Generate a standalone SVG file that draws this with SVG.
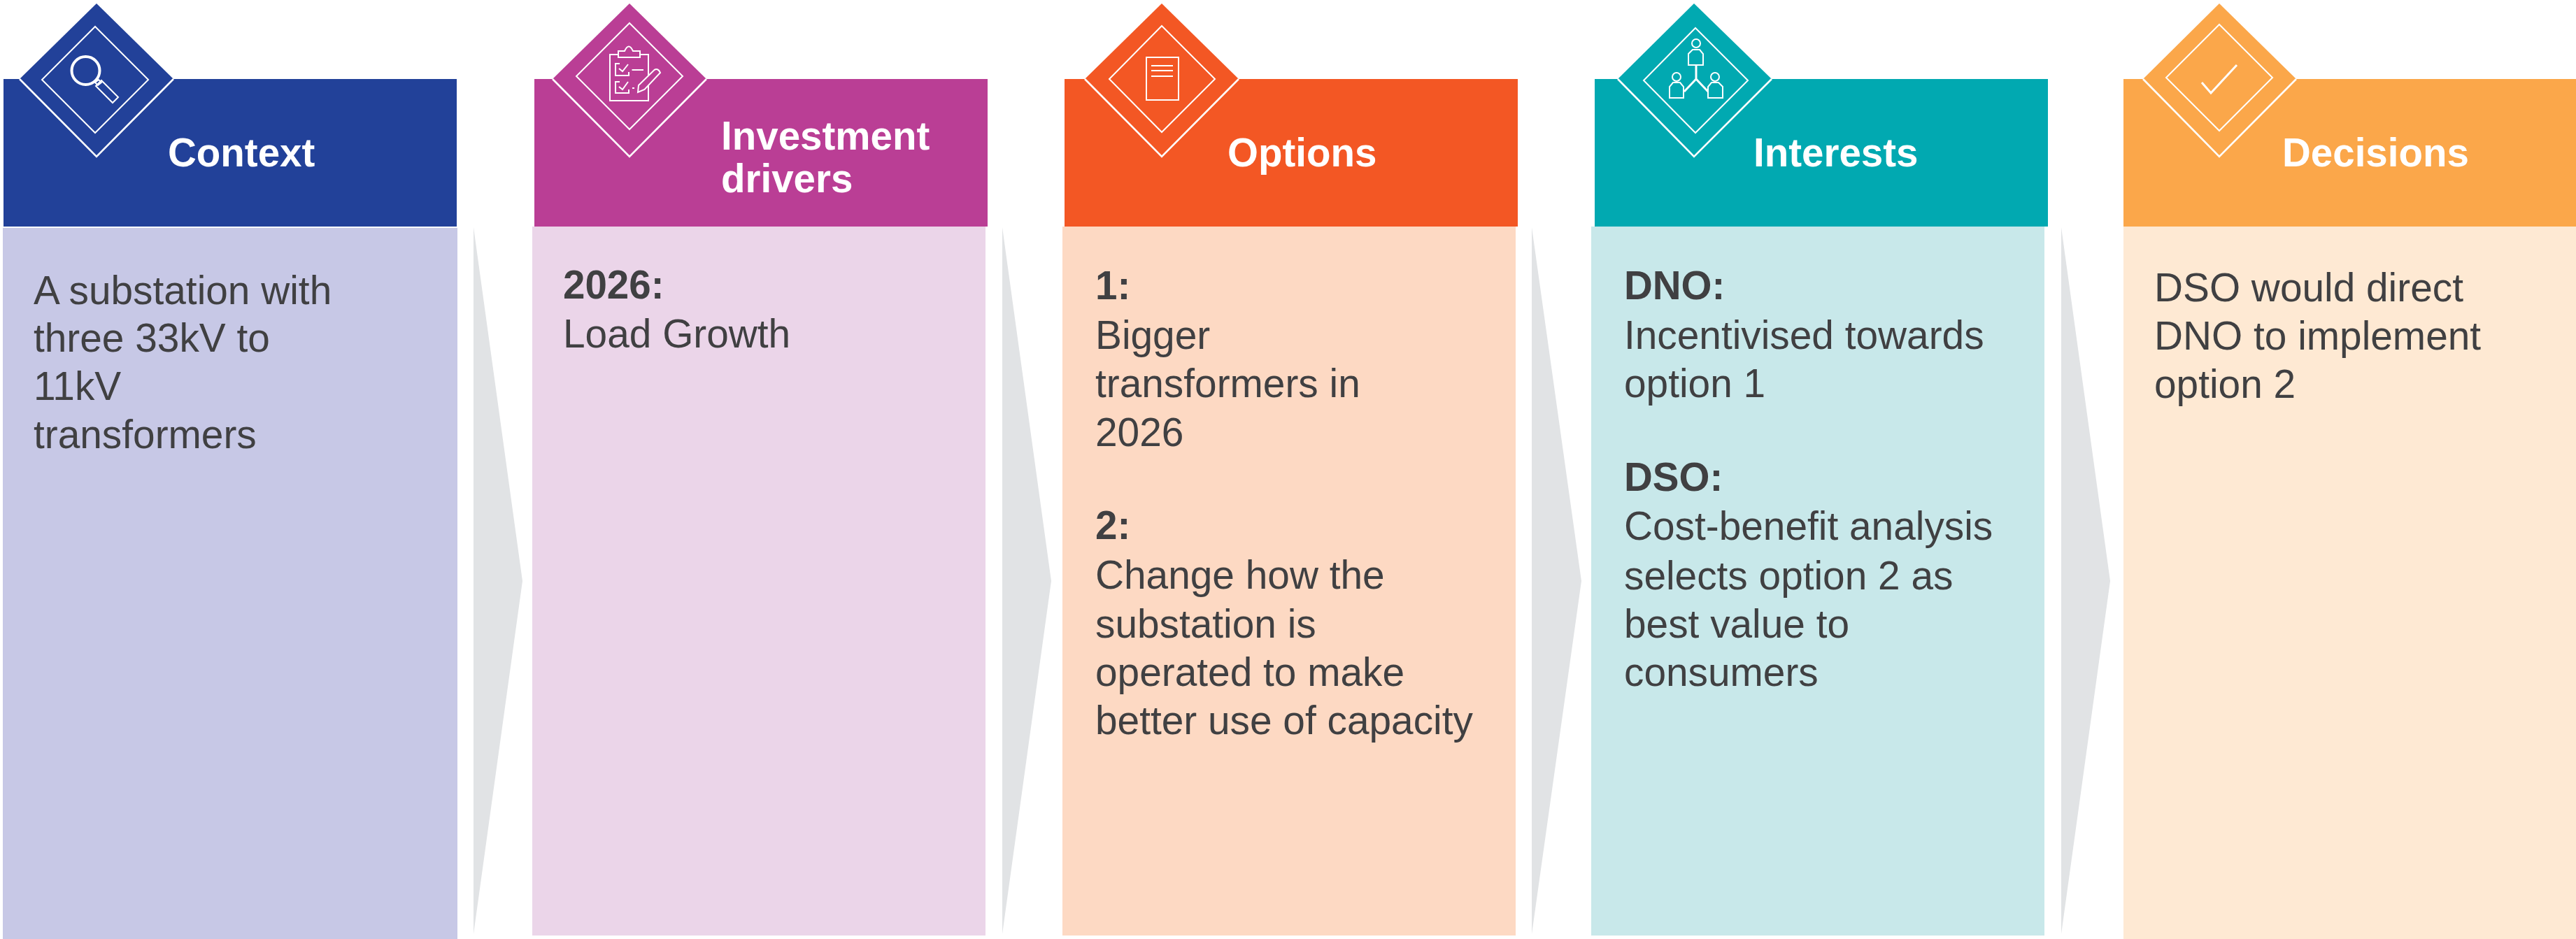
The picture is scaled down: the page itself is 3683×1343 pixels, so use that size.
<svg xmlns="http://www.w3.org/2000/svg" width="3683" height="1343" viewBox="0 0 3683 1343">
<style>
text{font-family:"Liberation Sans",Arial,sans-serif}
.h{fill:#fff;font-weight:700;font-size:56.5px}
.b{fill:#404042;font-size:56.8px}
.s{font-weight:700;font-size:56.5px}
.o{fill:none;stroke:#fff;stroke-width:2.6}
.d{fill:none;stroke:#fff;stroke-width:2}
.i{fill:none;stroke:#fff;stroke-width:2}
.t{fill:none;stroke:#fff;stroke-width:4}
.a{fill:#E1E3E5}
</style>
<rect width="3683" height="1343" fill="#fff"/>
<g id="connectors">
<polygon class="a" points="677,325 747,831 677,1336"/>
<polygon class="a" points="1433,325 1503,831 1433,1336"/>
<polygon class="a" points="2190,325 2261,831 2190,1336"/>
<polygon class="a" points="2947,325 3017,831 2947,1336"/>
</g>
<g id="context">
<rect x="4" y="326" width="650" height="1017" fill="#C7C8E6"/>
<rect x="5" y="113" width="648" height="211" fill="#224199"/>
<polygon points="138,5 248,113 138,224 28,113" fill="#224199"/>
<polyline class="o" points="28,113 138,224 248,113"/>
<polygon class="d" points="136,38 212,114 136,190 60,114"/>
<ellipse class="t" cx="122.5" cy="101" rx="20" ry="20"/>
<polygon class="i" points="136,118 141,114 145,118 140,122"/>
<polygon class="i" points="137,123 145,115 169,139 161,147"/>
<text class="h" x="240" y="238">Context</text>
<text class="b" x="48" y="435">A substation with</text>
<text class="b" x="48" y="503">three 33kV to</text>
<text class="b" x="48" y="572">11kV</text>
<text class="b" x="48" y="641">transformers</text>
</g>
<g id="investment-drivers">
<rect x="761" y="324" width="648" height="1014" fill="#EBD5E9"/>
<rect x="764" y="113" width="648" height="211" fill="#BA3E95"/>
<polygon points="900,5 1010,113 900,224 790,113" fill="#BA3E95"/>
<polyline class="o" points="790,113 900,224 1010,113"/>
<polygon class="d" points="900,33 976,109 900,185 824,109"/>
<path class="i" d="M884,78H872V144H927V78H915"/>
<path class="i" d="M884,82V73H893Q899,60 905,73H915V82Z"/>
<path class="i" d="M886,91H880V108H899V103"/>
<path class="i" d="M886,117H880V133H899V128"/>
<path class="i" d="M885,98L890,102L898,92M885,124L890,128L898,117"/>
<path class="i" d="M903.5,100H920M904,126H907"/>
<path d="M912,132L913,122L935.5,100Q941,97 944,104L921.5,128Z" fill="#BA3E95" stroke="#fff" stroke-width="2"/>
<text class="h" x="1031" y="214">Investment</text>
<text class="h" x="1031" y="275">drivers</text>
<text class="b s" x="805" y="427">2026:</text>
<text class="b" x="805" y="497">Load Growth</text>
</g>
<g id="options">
<rect x="1519" y="324" width="648" height="1014" fill="#FDD9C3"/>
<rect x="1522" y="113" width="648" height="211" fill="#F35724"/>
<polygon points="1661,5 1771,113 1661,224 1551,113" fill="#F35724"/>
<polyline class="o" points="1551,113 1661,224 1771,113"/>
<polygon class="d" points="1661,37 1737,113 1661,189 1586,113"/>
<rect class="i" x="1639" y="82" width="46" height="61"/>
<path class="i" d="M1646,94H1677M1646,101H1677M1646,109H1677"/>
<text class="h" x="1755" y="238">Options</text>
<text class="b s" x="1566" y="428">1:</text>
<text class="b" x="1566" y="499">Bigger</text>
<text class="b" x="1566" y="568">transformers in</text>
<text class="b" x="1566" y="638">2026</text>
<text class="b s" x="1566" y="771">2:</text>
<text class="b" x="1566" y="842">Change how the</text>
<text class="b" x="1566" y="912">substation is</text>
<text class="b" x="1566" y="981">operated to make</text>
<text class="b" x="1566" y="1050">better use of capacity</text>
</g>
<g id="interests">
<rect x="2275" y="324" width="648" height="1014" fill="#C8E8EA"/>
<rect x="2280" y="113" width="648" height="211" fill="#01A9B1"/>
<polygon points="2422,5 2533,113 2422,224 2313,113" fill="#01A9B1"/>
<polyline class="o" points="2313,113 2422,224 2533,113"/>
<polygon class="d" points="2424,40 2499,115 2424,190 2350,115"/>
<ellipse class="i" cx="2425" cy="62" rx="6" ry="6"/>
<path class="i" d="M2414,93V77L2420,71H2430L2435,77V93Z"/>
<ellipse class="i" cx="2397" cy="110" rx="6" ry="6"/>
<path class="i" d="M2387,140V124L2392,118H2402L2407,124V140Z"/>
<ellipse class="i" cx="2452" cy="110" rx="6" ry="6"/>
<path class="i" d="M2442,140V124L2447,118H2457L2463,124V140Z"/>
<path class="i" style="stroke-width:3" d="M2425,93V113L2408,131M2425,113L2442,131"/>
<text class="h" x="2507" y="238">Interests</text>
<text class="b s" x="2322" y="428">DNO:</text>
<text class="b" x="2322" y="499">Incentivised towards</text>
<text class="b" x="2322" y="568">option 1</text>
<text class="b s" x="2322" y="702">DSO:</text>
<text class="b" x="2322" y="772">Cost-benefit analysis</text>
<text class="b" x="2322" y="843">selects option 2 as</text>
<text class="b" x="2322" y="912">best value to</text>
<text class="b" x="2322" y="981">consumers</text>
</g>
<g id="decisions">
<rect x="3036" y="324" width="647" height="1019" fill="#FEE9D3"/>
<rect x="3036" y="113" width="647" height="211" fill="#FBA74A"/>
<polygon points="3173,5 3283,113 3173,224 3064,113" fill="#FBA74A"/>
<polyline class="o" points="3064,113 3173,224 3283,113"/>
<polygon class="d" points="3173,35 3249,111 3173,187 3097,111"/>
<polyline class="i" style="stroke-width:3" points="3148,118 3161,133 3198,93"/>
<text class="h" x="3263" y="238">Decisions</text>
<text class="b" x="3080" y="431">DSO would direct</text>
<text class="b" x="3080" y="500">DNO to implement</text>
<text class="b" x="3080" y="569">option 2</text>
</g>
</svg>
